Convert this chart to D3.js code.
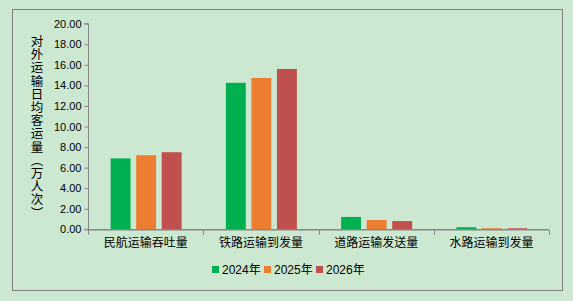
<!DOCTYPE html>
<html>
<head>
<meta charset="utf-8">
<script src="https://cdn.jsdelivr.net/npm/d3@7"></script>
<style>
  body { margin: 0; background: #cde8d0; }
  svg { display: block; }
  text { font-family: "Liberation Sans", Arial, "Noto Sans CJK SC", sans-serif; fill: #000; }
</style>
</head>
<body>
<svg id="drawing_region"></svg>
<script>
// 数据
const categories = ["民航运输吞吐量", "铁路运输到发量", "道路运输发送量", "水路运输到发量"];
const years = ["2024年", "2025年", "2026年"];
const values2024 = [6.90, 14.25, 1.20, 0.20];
const values2025 = [7.20, 14.72, 0.90, 0.10];
const values2026 = [7.50, 15.60, 0.80, 0.10];
const yTicks = [0, 2, 4, 6, 8, 10, 12, 14, 16, 18, 20];
const yTitle = "对外运输日均客运量（万人次）";
const colors = ["#00b050", "#ed7d31", "#c0504d"];

const series = [values2024, values2025, values2026];
const data = categories.map((c, i) => ({
    category: c,
    values: years.map((y, j) => ({ year: y, value: series[j][i], idx: j }))
}));

const width = 573, height = 301;
const margin = { left: 88, right: 24, top: 23.7, bottom: 71.7 };
const groupW = 71;

const svg = d3.select('#drawing_region')
    .attr('width', width)
    .attr('height', height);

// 外框
svg.append('rect')
    .attr('x', 12.5).attr('y', 9.5)
    .attr('width', 550).attr('height', 281)
    .attr('fill', '#cde8d0')
    .attr('stroke', '#7f7f7f')
    .attr('stroke-width', 1);

const x0 = d3.scaleBand()
    .domain(categories)
    .range([margin.left, width - margin.right])
    .paddingInner(0)
    .paddingOuter(0);

const x1 = d3.scaleBand()
    .domain(years)
    .range([0, groupW])
    .paddingInner(0.22);

const y = d3.scaleLinear()
    .domain([0, 20])
    .range([height - margin.bottom, margin.top]);

// 柱子
const groups = svg.selectAll('.grp')
    .data(data)
    .enter()
    .append('g')
    .attr('class', 'grp')
    .attr('transform', d => `translate(${x0(d.category) + (x0.bandwidth() - groupW) / 2 + 0.5}, 0)`);

groups.selectAll('rect')
    .data(d => d.values)
    .enter()
    .append('rect')
    .attr('x', d => x1(d.year))
    .attr('y', d => y(d.value))
    .attr('width', x1.bandwidth())
    .attr('height', d => y(0) - y(d.value))
    .attr('fill', d => colors[d.idx]);

// y 轴
const yAxis = d3.axisLeft(y)
    .tickValues(yTicks)
    .tickFormat(d3.format('.2f'))
    .tickSize(4)
    .tickPadding(3);

const gy = svg.append('g')
    .attr('transform', `translate(${margin.left + 0.5}, 0)`)
    .call(yAxis);
gy.select('.domain').attr('stroke', '#868686').attr('d', `M-4,${y(20)}H0V${y(0)}H-4`);
gy.selectAll('.tick line').attr('stroke', '#868686');
gy.selectAll('.tick text').style('font-size', '11px');

// x 轴
const xAxis = d3.axisBottom(x0)
    .tickSize(0)
    .tickPadding(9);

const gx = svg.append('g')
    .attr('transform', `translate(0, ${y(0) + 0.5})`)
    .call(xAxis);
gx.select('.domain').attr('stroke', '#868686').attr('stroke-width', 1.5).attr('d', `M${margin.left},0H${width - margin.right}`);
gx.selectAll('.tick text').style('font-size', '12px');

// 分类间刻度
const bounds = categories.map(c => x0(c)).concat([x0.range()[1]]);
gx.selectAll('.sep')
    .data(bounds)
    .enter()
    .append('line')
    .attr('class', 'sep')
    .attr('x1', d => Math.round(d) + 0.5)
    .attr('x2', d => Math.round(d) + 0.5)
    .attr('y1', 0)
    .attr('y2', 5)
    .attr('stroke', '#868686');

// y 轴标题（竖排）
svg.append('text')
    .attr('x', 37)
    .attr('y', 35)
    .attr('writing-mode', 'vertical-rl')
    .style('font-size', '12.5px')
    .style('letter-spacing', '0.7px')
    .style('font-family', '"Noto Sans CJK SC", sans-serif')
    .text(yTitle);

// 图例
const legend = svg.append('g')
    .attr('transform', 'translate(212, 266)');

const legendX = [0, 52, 104];
const items = legend.selectAll('.lg')
    .data(years)
    .enter()
    .append('g')
    .attr('class', 'lg')
    .attr('transform', (d, i) => `translate(${legendX[i]}, 0)`);

items.append('rect')
    .attr('x', 0).attr('y', 0)
    .attr('width', 7).attr('height', 7)
    .attr('fill', (d, i) => colors[i]);

items.append('text')
    .attr('x', 10)
    .attr('y', 8)
    .style('font-size', '12px')
    .text(d => d);
</script>
</body>
</html>
